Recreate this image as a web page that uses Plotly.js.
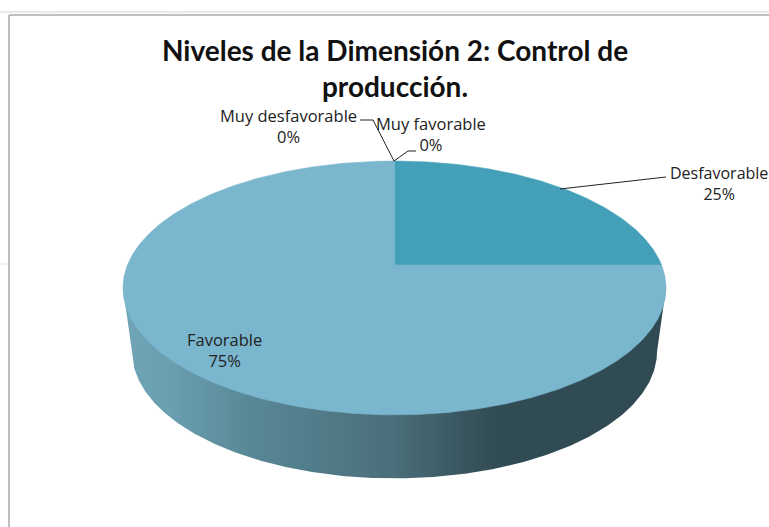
<!DOCTYPE html>
<html><head><meta charset="utf-8">
<script src="https://cdn.plot.ly/plotly-3.0.1.min.js"></script>
<style>html,body{margin:0;padding:0;background:#fff;overflow:hidden}</style>
</head><body><div id="chart" style="width:769px;height:527px"></div>
<script>
// Data
const categories = ["Muy desfavorable", "Desfavorable", "Favorable", "Muy favorable"];
const values = [0, 25, 75, 0];
const percentLabels = ["0%", "25%", "75%", "0%"];
const chartTitle = "Niveles de la Dimensión 2: Control de<br>producción.";

// Styles
const sliceColors = {"Desfavorable": "#449fb9", "Favorable": "#7ab6cd"};
const textColor = "#222222";
const labelFont = {family: "Open Sans, sans-serif", size: 16.5, color: textColor};

// Pie projection: a unit circle through a perspective map, drawn on pixel-sized axes.
const apexX = 394.5, apexY = 265, persp = 0.181, radius = 267, yScale = -74.8;
function topFace(u, v) {
  const w = persp * v + 1;
  return [apexX + radius * u / w, (yScale * v + apexY) / w];
}
function bottomFace(u, v) {
  const p = topFace(u, v);
  return [apexX + (p[0] - apexX) * 0.967, p[1] + 63.5];
}
function arc(f0, f1, fn) {
  const pts = [];
  const n = Math.max(2, Math.round((f1 - f0) * 720));
  for (let i = 0; i <= n; i++) {
    const a = 2 * Math.PI * (f0 + (f1 - f0) * i / n);
    pts.push(fn(Math.sin(a), Math.cos(a)));
  }
  return pts;
}
const traces = [];
// Side wall with horizontal gradient
const topRim = arc(0, 1, topFace);
let maxL = topRim[0], maxR = topRim[0];
topRim.forEach(p => { if (p[0] < maxL[0]) maxL = p; if (p[0] > maxR[0]) maxR = p; });
let botPts = arc(0, 1, bottomFace).filter(p => p[1] > maxL[1] + 63);
botPts.sort((a, b) => a[0] - b[0]);
const side = [maxL].concat(botPts, [maxR]);
traces.push({
  type: "scatter", mode: "lines", x: side.map(p => p[0]), y: side.map(p => p[1]),
  fill: "toself", line: {width: 0}, hoverinfo: "skip",
  fillgradient: {type: "horizontal", colorscale: [
    [0, "#70a5b8"], [0.09, "#6a9fb0"], [0.23, "#588896"], [0.5, "#4a6e7a"],
    [0.68, "#324c54"], [1, "#2f4a52"]]}
});
// Top slices
const total = values.reduce((a, b) => a + b, 0);
let cum = 0;
categories.forEach((c, i) => {
  const f0 = cum / total; cum += values[i];
  const f1 = cum / total;
  if (f1 <= f0) return;
  const pts = [[apexX, apexY]].concat(arc(f0, f1, topFace), [[apexX, apexY]]);
  traces.push({
    type: "scatter", mode: "lines", name: c, x: pts.map(p => p[0]), y: pts.map(p => p[1]),
    fill: "toself", fillcolor: sliceColors[c], line: {width: 0.6, color: sliceColors[c]}, text: percentLabels[i], hoverinfo: "name+text"
  });
});

function lbl(i, x, y, size) {
  return {x: x, y: y, xref: "x", yref: "y", xanchor: "center", yanchor: "middle", showarrow: false,
    text: categories[i] + "<br>" + percentLabels[i],
    font: Object.assign({}, labelFont, size ? {size: size} : {}), align: "center"};
}
const annotations = [lbl(0, 288, 126), lbl(3, 431, 134), lbl(1, 719, 183, 16), lbl(2, 224, 350)];

function poly(pts, color, w) {
  const d = "M" + pts.map(p => p.join(",")).join("L");
  return {type: "path", path: d, xref: "x", yref: "y", line: {color: color, width: w}};
}
const chrome = "#a9a9a9", chromeLight = "#e2e2e2";
const shapes = [
  poly([[0, 12], [769, 12]], chromeLight, 1.5),
  poly([[9, 15], [769, 15]], chrome, 1.5),
  poly([[9, 15], [9, 527]], chrome, 1.5),
  poly([[0, 264], [8, 264]], chromeLight, 1),
  poly([[48, 12], [48, 15]], chromeLight, 1),
  poly([[176, 12], [176, 15]], chromeLight, 1),
  poly([[360, 120], [373, 120], [394, 161]], "#222222", 1),
  poly([[394, 161], [408, 151], [416, 151]], "#222222", 1),
  poly([[560, 189], [666, 177]], "#222222", 1)
];

Plotly.newPlot("chart", traces, {
  width: 769, height: 527, showlegend: false, paper_bgcolor: "#fff", plot_bgcolor: "#fff",
  margin: {l: 0, r: 0, t: 0, b: 0},
  title: {text: chartTitle, x: 395 / 769, xanchor: "center", y: 1 - 61 / 527, yanchor: "top",
    font: {family: "Lato, sans-serif", size: 28, weight: 700, color: "#111111"}},
  xaxis: {range: [0, 769], visible: false, fixedrange: true},
  yaxis: {range: [527, 0], visible: false, fixedrange: true},
  annotations: annotations, shapes: shapes
}, {displayModeBar: false, staticPlot: true});
</script></body></html>
